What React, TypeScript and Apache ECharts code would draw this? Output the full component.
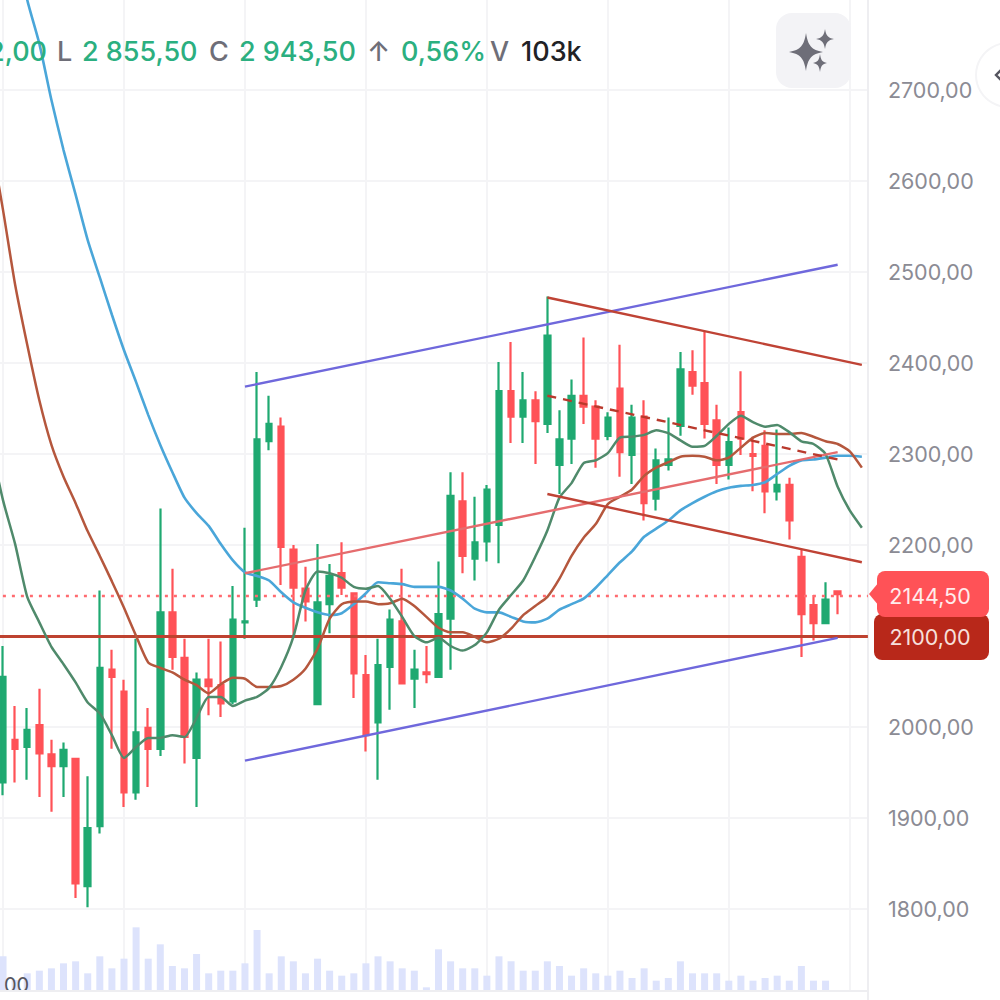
import React, { useEffect, useRef } from "react";
import * as echarts from "echarts";

const opens = [1939,1986,1978,2002,1970,1957,1965,1825,1891,2063,2039,1928,1999,1976,2126,2076,1966,2052,2046,2028,2115,2140,2314,2330,2195,2152,2025,2135,2169,2147,2057,2005,2066,2116,2053,2060,2055,2119,2248,2185,2204,2222,2369,2341,2359,2333,2288,2317,2364,2352,2320,2372,2299,2341,2251,2288,2331,2390,2378,2337,2288,2346,2300,2309,2259,2266,2187,2134,2114,2149];
const closes = [2055,1976,1997,1971,1957,1975,1828,1889,2065,2055,1928,1994,1976,2126,2077,1989,2052,2045,2026,2118,2116,2316,2333,2198,2153,2138,2137,2166,2153,2059,1991,2068,2118,2048,2063,2058,2124,2254,2188,2203,2261,2369,2341,2359,2336,2430,2316,2364,2352,2317,2340,2302,2340,2246,2293,2294,2393,2375,2333,2288,2313,2317,2298,2259,2266,2227,2124,2114,2140,2146];
const lows = [1925,1939,1942,1923,1907,1923,1812,1802,1883,1976,1912,1920,1934,1968,2063,1960,1912,2013,2011,2025,2097,2132,2304,2156,2099,2116,2024,2103,2145,2032,1973,1942,2019,2048,2021,2048,2055,2063,2169,2161,2182,2180,2312,2312,2289,2323,2256,2289,2333,2285,2315,2275,2267,2227,2238,2282,2320,2365,2317,2267,2272,2299,2259,2235,2249,2206,2077,2095,2113,2124];
const highs = [2089,2023,2021,2042,1986,1983,1965,1946,2150,2085,2052,2097,2021,2240,2174,2097,2060,2097,2094,2155,2219,2390,2364,2340,2200,2176,2201,2179,2203,2147,2079,2097,2129,2174,2085,2089,2182,2280,2280,2253,2266,2401,2423,2390,2369,2473,2348,2382,2428,2359,2346,2420,2354,2359,2306,2340,2412,2414,2434,2354,2329,2391,2319,2326,2327,2274,2195,2145,2159,2150];
const volumes = [101,30,50,58,65,80,86,50,101,65,94,188,94,137,72,65,108,50,58,58,80,180,50,101,86,50,94,58,43,50,80,101,86,65,58,8,122,86,65,65,43,101,86,58,58,86,72,43,65,50,43,58,36,65,28,36,86,50,50,50,28,43,28,36,43,28,72,28,28,0];
// Moving averages begin one session before the first visible candle, so they enter from the left edge.
const maFast = [2310,2249,2201,2143,2115,2088,2069,2049,2027,2015,1991,1966,1978,1988,1988,1991,1989,2010,2033,2033,2023,2029,2033,2043,2066,2099,2150,2171,2169,2164,2154,2152,2155,2141,2121,2100,2093,2098,2089,2084,2090,2104,2129,2145,2161,2187,2216,2252,2268,2290,2293,2301,2318,2319,2321,2326,2323,2315,2308,2309,2320,2333,2342,2335,2330,2332,2324,2314,2311,2300,2264,2238,2219];
const maMid = [2645,2568,2486,2420,2359,2310,2275,2246,2215,2188,2160,2131,2100,2071,2065,2060,2052,2046,2037,2047,2054,2053,2044,2044,2045,2052,2064,2086,2119,2135,2138,2138,2135,2136,2141,2133,2121,2109,2104,2104,2099,2093,2097,2108,2123,2133,2143,2163,2188,2208,2223,2245,2253,2261,2276,2285,2291,2297,2298,2297,2293,2296,2307,2318,2323,2322,2322,2323,2319,2314,2311,2303,2285];
const maSlow = [2990,2931,2865,2799,2751,2689,2634,2585,2535,2494,2453,2414,2379,2343,2310,2280,2252,2235,2221,2201,2183,2170,2166,2161,2148,2137,2131,2126,2123,2125,2135,2147,2159,2158,2157,2154,2154,2154,2150,2141,2130,2126,2126,2121,2116,2115,2119,2129,2135,2141,2153,2167,2181,2193,2209,2218,2227,2238,2246,2253,2259,2263,2265,2266,2269,2278,2287,2293,2294,2296,2298,2298,2297];
const categories = Array.from({ length: 73 }, (_, i) => String(i));
const priceTicks = [1800, 1900, 2000, 2200, 2300, 2400, 2500, 2600, 2700];
const channelUpper = [[21, 2374], [70, 2508]];
const channelLower = [[21, 1963], [70, 2098]];
const channelMiddle = [[21, 2169], [70, 2302]];
const fallingUpper = [[46, 2472], [72, 2398]];
const fallingLower = [[46, 2256], [72, 2181]];
const fallingMiddle = [[46, 2364], [70, 2294]];
const lastPrice = 2144.5;
const levelPrice = 2100;

const GREEN = "#1FA971";
const RED = "#FF5257";
const HEADER_GREEN = "#2BAF80";
const HEADER_GRAY = "#6E6E78";
const GRID = "#F4F4F6";

const SPARK = "M0 -100 C12 -32 32 -12 100 0 C32 12 12 32 0 100 C-12 32 -32 12 -100 0 C-32 -12 -12 -32 0 -100Z";
echarts.graphic.registerShape("spark", echarts.graphic.extendPath(SPARK, {}));

function headerText(x: number, text: string, fill: string, textAlign = "left") {
  return {
    type: "text",
    x,
    y: 51,
    z: 50,
    style: { text, fill, fontFamily: "Inter", fontSize: 27, fontWeight: 500, textAlign, textVerticalAlign: "middle" },
  };
}

function trend(data: number[][], color: string, extra: any = {}) {
  return {
    type: "line",
    data,
    symbol: "none",
    silent: true,
    z: 6,
    lineStyle: { color, width: 2.4, ...extra },
  };
}

export default function App() {
  const ref = useRef<HTMLDivElement>(null);
  useEffect(() => {
    document.body.style.margin = "0";
    const chart = echarts.init(ref.current!, undefined, { renderer: "svg" });
    chart.setOption({
      animation: false,
      backgroundColor: "#ffffff",
      grid: [
        { left: -15.1, top: -1, width: 883, height: 1001, outerBoundsMode: "none" },
        { left: -15.1, top: 920, width: 883, height: 70, outerBoundsMode: "none" },
      ],
      xAxis: [
        {
          type: "category",
          gridIndex: 0,
          data: categories,
          axisLine: { show: false },
          axisTick: { show: false, alignWithLabel: true },
          axisLabel: { show: false },
          splitLine: {
            show: true,
            alignWithLabel: true,
            interval: (i: number) => (i - 1) % 10 === 0,
            lineStyle: { color: GRID, width: 2 },
          },
        },
        {
          type: "category",
          gridIndex: 1,
          data: categories,
          axisLine: { show: false },
          axisTick: { show: false },
          axisLabel: { show: false },
          splitLine: { show: false },
        },
      ],
      yAxis: [
        {
          type: "value",
          gridIndex: 0,
          position: "right",
          min: 1700,
          max: 2800,
          interval: 100,
          axisLine: { show: true, lineStyle: { color: "#EEEEF1", width: 2 } },
          axisTick: { show: false },
          axisLabel: {
            margin: 20,
            color: "#8B8B94",
            fontFamily: "Inter",
            fontSize: 21.5,
            formatter: (v: number) => (priceTicks.includes(v) ? `${v},00` : ""),
          },
          splitLine: { show: true, lineStyle: { color: GRID, width: 2 } },
        },
        {
          type: "value",
          gridIndex: 1,
          min: 0,
          max: 210,
          show: false,
        },
      ],
      series: [
        {
          type: "bar",
          xAxisIndex: 1,
          yAxisIndex: 1,
          data: ["-", ...volumes],
          barWidth: 7,
          silent: true,
          z: 1,
          itemStyle: { color: "#DDE3FC" },
        },
        {
          type: "candlestick",
          data: ["-", ...opens.map((o, i) => [o, closes[i], lows[i], highs[i]])],
          barWidth: 6,
          z: 3,
          itemStyle: { color: GREEN, color0: RED, borderColor: GREEN, borderColor0: RED, borderWidth: 2.2 },
          markLine: {
            silent: true,
            symbol: "none",
            label: { show: false },
            animation: false,
            data: [
              { yAxis: levelPrice, lineStyle: { color: "#BE4230", width: 3, type: "solid" } },
              { yAxis: lastPrice, lineStyle: { color: "#FF6B70", width: 2.4, type: [3, 6] } },
            ],
          },
        },
        { type: "line", data: maSlow, symbol: "none", smooth: 0.2, silent: true, z: 5, lineStyle: { color: "#4AA6D9", width: 2.6 } },
        { type: "line", data: maMid, symbol: "none", smooth: 0.2, silent: true, z: 5, lineStyle: { color: "#B5573D", width: 2.5 } },
        { type: "line", data: maFast, symbol: "none", smooth: 0.2, silent: true, z: 5, lineStyle: { color: "#4F8A6B", width: 2.5 } },
        trend(channelUpper, "#6F68DC"),
        trend(channelLower, "#6F68DC"),
        trend(channelMiddle, "#E56C6E"),
        trend(fallingUpper, "#BF4335"),
        trend(fallingLower, "#BF4335"),
        trend(fallingMiddle, "#B9392C", { type: [9, 7] }),
      ],
      graphic: [
        { type: "text", x: 4, y: 985, z: 40, style: { text: "00", fill: "#55555F", fontFamily: "Inter", fontSize: 20, textVerticalAlign: "middle" } },
        { type: "rect", shape: { x: 0, y: 990, width: 867, height: 10 }, z: 41, style: { fill: "#ffffff" } },
        { type: "line", shape: { x1: 0, y1: 991, x2: 867, y2: 991 }, z: 42, style: { stroke: "#EEEEF1", lineWidth: 2 } },

        headerText(47, "2,00", HEADER_GREEN, "right"),
        headerText(57, "L", HEADER_GRAY),
        headerText(82, "2 855,50", HEADER_GREEN),
        headerText(209, "C", HEADER_GRAY),
        headerText(239, "2 943,50", HEADER_GREEN),
        headerText(367, "↑", HEADER_GRAY),
        headerText(401, "0,56%", HEADER_GREEN),
        headerText(490, "V", HEADER_GRAY),
        headerText(521, "103k", "#222226"),

        { type: "rect", shape: { x: 776, y: 13, width: 75, height: 75, r: 16 }, z: 50, style: { fill: "#F3F3F6" } },
        { type: "spark", x: 806, y: 52, scaleX: 0.17, scaleY: 0.19, z: 51, style: { fill: "#6E6E78" } },
        { type: "spark", x: 825, y: 39, scaleX: 0.09, scaleY: 0.1, z: 51, style: { fill: "#6E6E78" } },
        { type: "spark", x: 820, y: 63, scaleX: 0.07, scaleY: 0.09, z: 51, style: { fill: "#6E6E78" } },

        { type: "circle", shape: { cx: 1008, cy: 75, r: 32 }, z: 50, style: { fill: "#ffffff", stroke: "#F4F4F6", lineWidth: 2 } },
        { type: "polyline", shape: { points: [[1001, 70], [996, 75], [1001, 80]] }, z: 51, style: { fill: "none", stroke: "#55555F", lineWidth: 2.4 } },

        { type: "rect", shape: { x: 874, y: 614, width: 115, height: 46, r: 8 }, z: 60, style: { fill: "#B8281A" } },
        { type: "rect", shape: { x: 877, y: 571, width: 112, height: 46, r: 8 }, z: 61, style: { fill: "#FF5257" } },
        { type: "polygon", shape: { points: [[869, 594], [879, 582], [879, 606]] }, z: 61, style: { fill: "#FF5257" } },
        { type: "text", x: 930, y: 596, z: 62, style: { text: "2144,50", fill: "#FFECEC", fontFamily: "Inter", fontSize: 21.5, textAlign: "center", textVerticalAlign: "middle" } },
        { type: "text", x: 930, y: 637, z: 62, style: { text: "2100,00", fill: "#F7E0DC", fontFamily: "Inter", fontSize: 21.5, textAlign: "center", textVerticalAlign: "middle" } },
      ],
    });
    return () => chart.dispose();
  }, []);
  return <div ref={ref} style={{ width: 1000, height: 1000 }} />;
}
